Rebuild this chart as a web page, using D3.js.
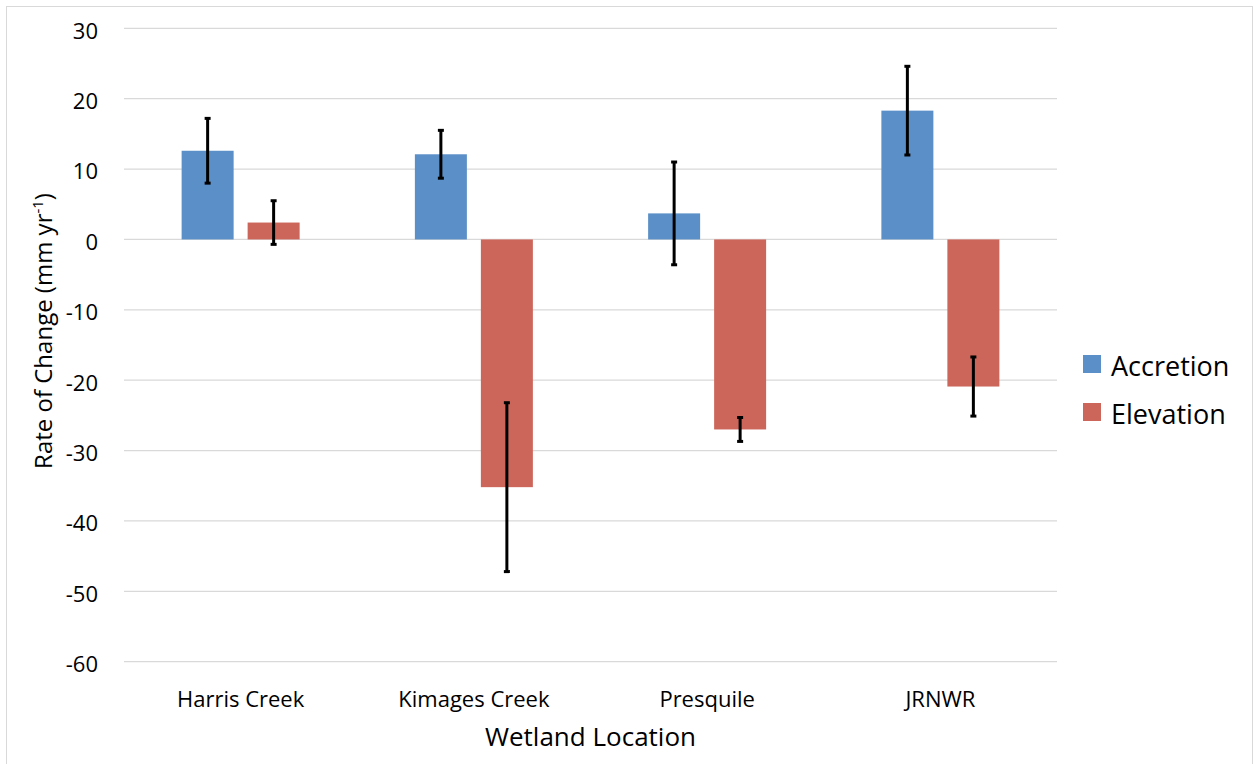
<!DOCTYPE html>
<html>
<head>
<meta charset="utf-8">
<script src="https://cdn.jsdelivr.net/npm/d3@7"></script>
<style>
  html, body { margin: 0; padding: 0; background: #fff; }
  svg { display: block; font-family: "Open Sans", sans-serif; }
</style>
</head>
<body>
<svg id="chart" width="1253" height="764"></svg>
<script>
// Wetland sites and measured rates (mm per year)
const categories = ["Harris Creek", "Kimages Creek", "Presquile", "JRNWR"];
const seriesNames = ["Accretion", "Elevation"];
const accretion = [12.6, 12.1, 3.7, 18.3];
const accretionErr = [4.6, 3.4, 7.3, 6.3];
const elevation = [2.4, -35.2, -27.0, -20.9];
const elevationErr = [3.1, 12.0, 1.7, 4.2];
const yTicks = [30, 20, 10, 0, -10, -20, -30, -40, -50, -60];

const colors = { Accretion: "#5b8fc7", Elevation: "#cc665a" };

const rows = categories.map((c, i) => ({
  category: c,
  values: [
    { series: "Accretion", value: accretion[i], err: accretionErr[i] },
    { series: "Elevation", value: elevation[i], err: elevationErr[i] }
  ]
}));

const svg = d3.select("#chart");
const plot = { left: 124, right: 1057, top: 28.3, bottom: 661.7 };

// outer frame
svg.append("rect")
  .attr("x", 6.5).attr("y", 6.5)
  .attr("width", 1246).attr("height", 760)
  .attr("fill", "none").attr("stroke", "#d9d9d9").attr("stroke-width", 1);

const y = d3.scaleLinear().domain([-60, 30]).range([plot.bottom, plot.top]);
const x0 = d3.scaleBand().domain(categories).range([plot.left, plot.right]).padding(0);
const groupWidth = 118;
const x1 = d3.scaleBand().domain(seriesNames).range([0, groupWidth]).paddingInner(0.212);

// gridlines
svg.append("g")
  .selectAll("line")
  .data(yTicks)
  .join("line")
  .attr("x1", plot.left).attr("x2", plot.right)
  .attr("y1", d => y(d)).attr("y2", d => y(d))
  .attr("stroke", "#d9d9d9").attr("stroke-width", 1.3);

// y axis labels (plain hyphen for negatives)
const yAxis = d3.axisLeft(y).tickValues(yTicks).tickSize(0).tickPadding(0).tickFormat(d => String(d));
const yg = svg.append("g").attr("transform", "translate(98,0)").call(yAxis);
yg.select(".domain").remove();
yg.selectAll("text")
  .attr("font-family", "'Open Sans', sans-serif")
  .attr("font-size", 22).attr("fill", "#000").attr("dy", "0.45em");

// x axis labels
const xAxis = d3.axisBottom(x0).tickSize(0).tickPadding(0);
const xg = svg.append("g").attr("transform", "translate(0,707)").call(xAxis);
xg.select(".domain").remove();
xg.selectAll("text")
  .attr("font-family", "'Open Sans', sans-serif")
  .attr("font-size", 22).attr("fill", "#000").attr("dy", 0).attr("y", 0);

// bars
const groups = svg.append("g")
  .selectAll("g")
  .data(rows)
  .join("g")
  .attr("transform", d => `translate(${x0(d.category) + (x0.bandwidth() - groupWidth) / 2},0)`);

groups.selectAll("rect")
  .data(d => d.values)
  .join("rect")
  .attr("x", d => x1(d.series))
  .attr("width", x1.bandwidth())
  .attr("y", d => y(Math.max(0, d.value)))
  .attr("height", d => Math.abs(y(d.value) - y(0)))
  .attr("fill", d => colors[d.series]);

// error bars
const capHalf = 3;
const eb = groups.selectAll("g.err")
  .data(d => d.values)
  .join("g").attr("class", "err");
eb.append("line")
  .attr("x1", d => x1(d.series) + x1.bandwidth() / 2)
  .attr("x2", d => x1(d.series) + x1.bandwidth() / 2)
  .attr("y1", d => y(d.value + d.err))
  .attr("y2", d => y(d.value - d.err))
  .attr("stroke", "#000").attr("stroke-width", 3);
[1, -1].forEach(s => {
  eb.append("line")
    .attr("x1", d => x1(d.series) + x1.bandwidth() / 2 - capHalf)
    .attr("x2", d => x1(d.series) + x1.bandwidth() / 2 + capHalf)
    .attr("y1", d => y(d.value + s * d.err))
    .attr("y2", d => y(d.value + s * d.err))
    .attr("stroke", "#000").attr("stroke-width", 3);
});

// axis titles
svg.append("text")
  .attr("x", (plot.left + plot.right) / 2).attr("y", 746)
  .attr("text-anchor", "middle")
  .attr("font-size", 26).attr("fill", "#000")
  .text("Wetland Location");

const yt = svg.append("text")
  .attr("transform", "translate(52,331) rotate(-90)")
  .attr("text-anchor", "middle")
  .attr("font-size", 24).attr("fill", "#000");
yt.append("tspan").text("Rate of Change (mm yr");
yt.append("tspan").attr("font-size", 15).attr("dy", -9).text("-1");
yt.append("tspan").attr("dy", 9).text(")");

// legend
const legend = svg.append("g")
  .selectAll("g")
  .data(seriesNames)
  .join("g")
  .attr("transform", (d, i) => `translate(1083,${355 + i * 48})`);
legend.append("rect")
  .attr("width", 18).attr("height", 18)
  .attr("fill", d => colors[d]);
legend.append("text")
  .attr("x", 28).attr("y", 21)
  .attr("font-size", 27).attr("fill", "#000")
  .text(d => d);
</script>
</body>
</html>
